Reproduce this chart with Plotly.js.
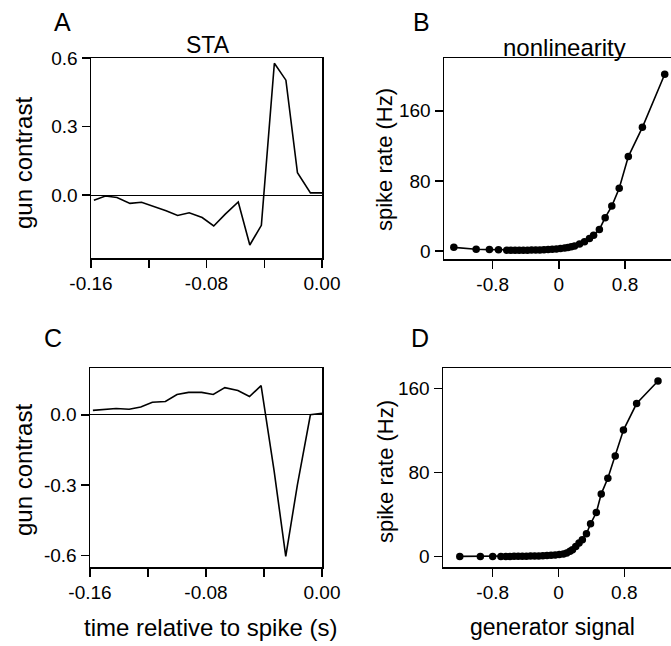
<!DOCTYPE html>
<html>
<head>
<meta charset="utf-8">
<script src="https://cdn.plot.ly/plotly-3.0.1.min.js"></script>
<style>html,body{margin:0;padding:0;background:#fff;overflow:hidden;}</style>
</head>
<body>
<div id="chart" style="width:671px;height:646px;"></div>
<script>
// STA time axis (s, relative to spike)
const staTime = [-0.158, -0.150, -0.142, -0.133, -0.125, -0.117, -0.108, -0.100, -0.092, -0.083,
                 -0.075, -0.067, -0.058, -0.050, -0.042, -0.033, -0.025, -0.017, -0.008, 0.000];
// Panel A STA (gun contrast)
const staA = [-0.022, -0.004, -0.010, -0.036, -0.031, -0.048, -0.068, -0.089, -0.077, -0.098,
              -0.135, -0.083, -0.030, -0.218, -0.132, 0.577, 0.503, 0.098, 0.010, 0.010];
// Panel C STA (gun contrast)
const staC = [0.019, 0.024, 0.027, 0.024, 0.033, 0.054, 0.057, 0.087, 0.096, 0.096,
              0.087, 0.116, 0.104, 0.078, 0.125, -0.240, -0.605, -0.300, 0.000, 0.007];

// Panel B nonlinearity
const genB = [-1.27, -1.00, -0.84, -0.73, -0.63, -0.58, -0.53, -0.48, -0.43, -0.38, -0.33,
              -0.28, -0.23, -0.18, -0.13, -0.08, -0.03, 0.02, 0.07, 0.11, 0.15, 0.19, 0.25,
              0.31, 0.37, 0.42, 0.49, 0.56, 0.64, 0.73, 0.84, 1.01, 1.28];
const rateB = [4.2, 2.0, 1.6, 1.5, 0.8, 0.8, 0.9, 0.9, 1.0, 1.0, 1.1,
               1.2, 1.3, 1.5, 1.7, 2.0, 2.3, 2.8, 3.4, 4.0, 4.8, 5.7, 7.9,
               10.5, 14.4, 18.1, 24.6, 38.1, 51.3, 71.6, 107.8, 141.1, 201.7];

// Panel D nonlinearity
const genD = [-1.20, -0.95, -0.80, -0.70, -0.64, -0.59, -0.54, -0.49, -0.44, -0.39, -0.34,
              -0.29, -0.24, -0.19, -0.14, -0.09, -0.04, 0.01, 0.06, 0.10, 0.14, 0.17, 0.21,
              0.25, 0.29, 0.34, 0.39, 0.46, 0.52, 0.60, 0.69, 0.79, 0.95, 1.21];
const rateD = [0, 0, 0, 0, 0, 0, 0.1, 0.1, 0.2, 0.2, 0.3,
               0.4, 0.5, 0.6, 0.8, 1.0, 1.3, 1.7, 2.3, 3.2, 4.8, 6.4, 9.5,
               12.7, 15.9, 21.6, 31.1, 41.8, 59.6, 74.5, 95.7, 120.4, 145.7, 167.2];

const staTickVals = [-0.16, -0.12, -0.08, -0.04, 0];
const staTickText = ['-0.16', '', '-0.08', '', '0.00'];
const genTickVals = [-0.8, 0, 0.8];
const genTickText = ['-0.8', '0', '0.8'];
const rateTickVals = [0, 80, 160];
const staATickVals = [0, 0.3, 0.6];
const staATickText = ['0.0', '0.3', '0.6'];
const staCTickVals = [-0.6, -0.3, 0];
const staCTickText = ['-0.6', '-0.3', '0.0'];

const W = 671, H = 646;
const px = v => v / W;
const py = v => 1 - v / H;
const FONT = '"Liberation Sans", Arial, Helvetica, sans-serif';

const lineStyle = {color: 'black', width: 1.6};
const traces = [
  {x: staTime, y: staA, type: 'scatter', mode: 'lines', line: lineStyle, xaxis: 'x', yaxis: 'y', hoverinfo: 'none'},
  {x: genB, y: rateB, type: 'scatter', mode: 'lines+markers', line: lineStyle,
   marker: {color: 'black', size: 7.5}, xaxis: 'x2', yaxis: 'y2', hoverinfo: 'none'},
  {x: staTime, y: staC, type: 'scatter', mode: 'lines', line: lineStyle, xaxis: 'x3', yaxis: 'y3', hoverinfo: 'none'},
  {x: genD, y: rateD, type: 'scatter', mode: 'lines+markers', line: lineStyle,
   marker: {color: 'black', size: 7.5}, xaxis: 'x4', yaxis: 'y4', hoverinfo: 'none'}
];

function ax(opts) {
  return Object.assign({
    showline: true, mirror: true, linecolor: 'black', linewidth: 1.5,
    ticks: 'outside', ticklen: 8, tickwidth: 1.5, tickcolor: 'black',
    showgrid: false, zeroline: false, fixedrange: true,
    tickfont: {family: FONT, size: 19, color: 'black'}
  }, opts);
}

const layout = {
  width: W, height: H,
  margin: {l: 0, r: 0, t: 0, b: 0},
  paper_bgcolor: 'white', plot_bgcolor: 'white',
  showlegend: false,
  font: {family: FONT, color: 'black'},
  xaxis: ax({domain: [px(91), px(322)], range: [-0.16, 0], tickmode: 'array',
             tickvals: staTickVals, ticktext: staTickText, anchor: 'y'}),
  yaxis: ax({domain: [py(258), py(58)], range: [-0.275, 0.6], tickmode: 'array',
             tickvals: staATickVals, ticktext: staATickText, anchor: 'x',
             zeroline: true, zerolinecolor: 'black', zerolinewidth: 1.2}),
  xaxis2: ax({domain: [px(444), 1], range: [-1.389, 1.356], tickmode: 'array',
              tickvals: genTickVals, ticktext: genTickText, anchor: 'y2'}),
  yaxis2: ax({domain: [py(259), py(58)], range: [-9.1, 220.2], tickmode: 'array',
              tickvals: rateTickVals, anchor: 'x2'}),
  xaxis3: ax({domain: [px(90), px(322)], range: [-0.16, 0], tickmode: 'array',
              tickvals: staTickVals, ticktext: staTickText, anchor: 'y3'}),
  yaxis3: ax({domain: [py(567), py(368)], range: [-0.65, 0.2], tickmode: 'array',
              tickvals: staCTickVals, ticktext: staCTickText, anchor: 'x3',
              zeroline: true, zerolinecolor: 'black', zerolinewidth: 1.2}),
  xaxis4: ax({domain: [px(443), 1], range: [-1.404, 1.368], tickmode: 'array',
              tickvals: genTickVals, ticktext: genTickText, anchor: 'y4'}),
  yaxis4: ax({domain: [py(567), py(368)], range: [-10.1, 179.6], tickmode: 'array',
              tickvals: rateTickVals, anchor: 'x4'}),
  annotations: []
};

function note(text, x, y, size, angle) {
  layout.annotations.push({
    text: text, xref: 'paper', yref: 'paper', x: px(x), y: py(y),
    xanchor: 'center', yanchor: 'middle', showarrow: false, textangle: angle || 0,
    font: {family: FONT, size: size, color: 'black'}
  });
}
note('A', 62, 22, 25);
note('B', 421, 22, 25);
note('C', 53, 338, 25);
note('D', 420, 338, 25);
note('STA', 208, 45, 23);
note('nonlinearity', 564, 48, 24);
note('gun contrast', 23, 163, 24, -90);
note('gun contrast', 23, 470, 24, -90);
note('spike rate (Hz)', 385, 160, 22, -90);
note('spike rate (Hz)', 385, 472, 22, -90);
note('time relative to spike (s)', 210, 627, 24);
note('generator signal', 552, 627, 23);

Plotly.newPlot('chart', traces, layout, {staticPlot: true, displayModeBar: false});
</script>
</body>
</html>
